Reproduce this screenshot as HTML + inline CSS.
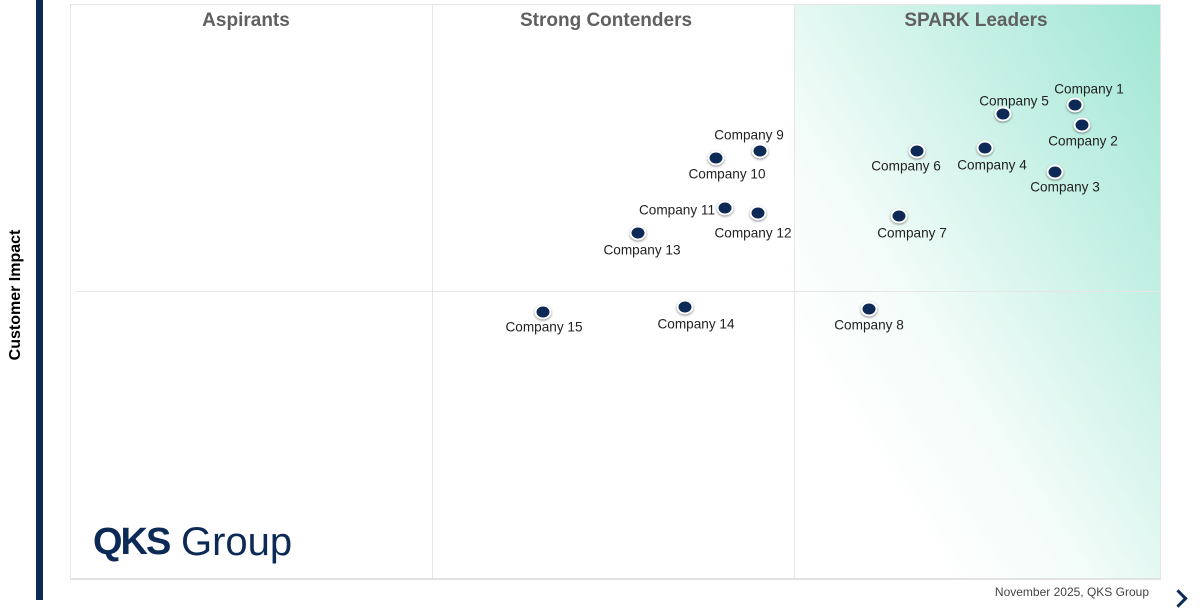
<!DOCTYPE html>
<html><head><style>
body{margin:0;width:1200px;height:600px;overflow:hidden;background:#fff;font-family:"Liberation Sans",sans-serif;position:relative}
.a{position:absolute}
.lab{position:absolute;font-size:13.6px;color:#222;transform:translate(-50%,-50%);white-space:nowrap}
.dot{position:absolute;width:13px;height:11px;border-radius:50%;background:#0d2a57;border:2px solid #fff;box-shadow:0 1px 2px rgba(0,0,0,.45);transform:translate(-50%,-50%)}
.h{position:absolute;top:10px;font-size:19px;font-weight:bold;color:#606060;transform:translateX(-50%);white-space:nowrap}
</style></head><body>
<div class="a" style="left:36px;top:0;width:7px;height:600px;background:#0d2a57"></div>
<div class="a" style="left:16px;top:295px;transform:translate(-50%,-50%) rotate(-90deg);font-size:16px;font-weight:bold;white-space:nowrap">Customer Impact</div>
<div class="a" style="left:70px;top:4px;width:1089px;height:573px;border:1px solid #e6e6e6;border-bottom:2px solid #e2e2e2"></div>
<div class="a" style="left:795px;top:5px;width:365px;height:573px;background:linear-gradient(to bottom left,#9fe6d4 0%,#c8f1e6 30%,#f3fcf9 60%,#fff 80%)"></div>
<div class="a" style="left:432px;top:5px;width:1px;height:573px;background:#e6e6e6"></div>
<div class="a" style="left:794px;top:5px;width:1px;height:573px;background:#e6e6e6"></div>
<div class="a" style="left:76px;top:291px;width:1084px;height:1px;background:#e6e6e6"></div>
<div class="h" style="left:246px">Aspirants</div>
<div class="h" style="left:606px">Strong Contenders</div>
<div class="h" style="left:976px">SPARK Leaders</div>
<div class="a" style="left:93px;top:520px;font-size:38px;line-height:44px;color:#0d2a57;white-space:nowrap"><b style="letter-spacing:-2px">QKS</b></div>
<div class="a" style="left:181px;top:520px;font-size:40px;line-height:44px;color:#0d2a57;white-space:nowrap">Group</div>
<div class="a" style="right:51px;top:585px;font-size:12px;color:#444">November 2025, QKS Group</div>
<div class="a" style="left:1172px;top:592px;width:10px;height:10px;border-top:3px solid #0d2a57;border-right:3px solid #0d2a57;transform:rotate(45deg)"></div>

<div class="dot" style="left:1075px;top:105px"></div><div class="lab" style="left:1089px;top:89px">Company 1</div>
<div class="dot" style="left:1003px;top:114px"></div><div class="lab" style="left:1014px;top:101px">Company 5</div>
<div class="dot" style="left:1082px;top:125px"></div><div class="lab" style="left:1083px;top:141px">Company 2</div>
<div class="dot" style="left:985px;top:148px"></div><div class="lab" style="left:992px;top:165px">Company 4</div>
<div class="dot" style="left:1055px;top:172px"></div><div class="lab" style="left:1065px;top:187px">Company 3</div>
<div class="dot" style="left:917px;top:151px"></div><div class="lab" style="left:906px;top:166px">Company 6</div>
<div class="dot" style="left:899px;top:216px"></div><div class="lab" style="left:912px;top:233px">Company 7</div>
<div class="dot" style="left:869px;top:309px"></div><div class="lab" style="left:869px;top:325px">Company 8</div>
<div class="dot" style="left:760px;top:151px"></div><div class="lab" style="left:749px;top:135px">Company 9</div>
<div class="dot" style="left:716px;top:158px"></div><div class="lab" style="left:727px;top:174px">Company 10</div>
<div class="dot" style="left:725px;top:208px"></div><div class="lab" style="left:677px;top:210px">Company 11</div>
<div class="dot" style="left:758px;top:213px"></div><div class="lab" style="left:753px;top:233px">Company 12</div>
<div class="dot" style="left:638px;top:233px"></div><div class="lab" style="left:642px;top:250px">Company 13</div>
<div class="dot" style="left:685px;top:307px"></div><div class="lab" style="left:696px;top:324px">Company 14</div>
<div class="dot" style="left:543px;top:312px"></div><div class="lab" style="left:544px;top:327px">Company 15</div>
</body></html>
